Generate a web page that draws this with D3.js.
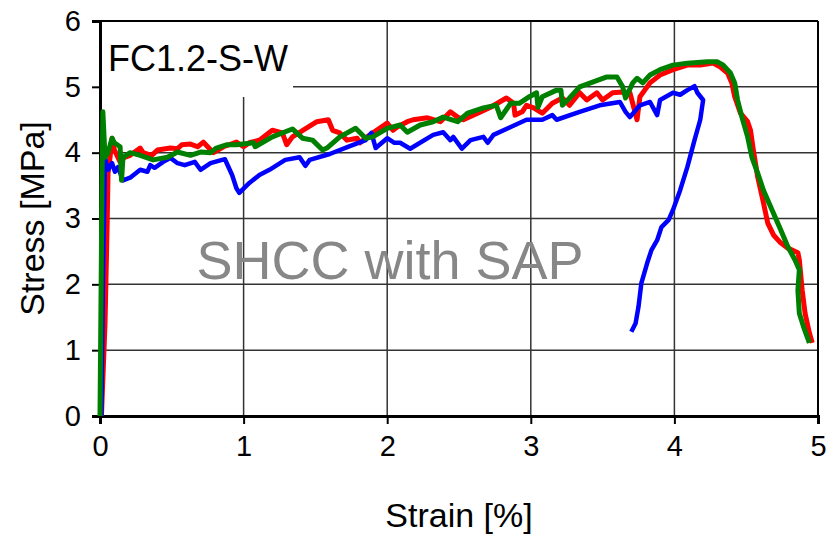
<!DOCTYPE html>
<html>
<head>
<meta charset="utf-8">
<script src="https://cdn.jsdelivr.net/npm/d3@7"></script>
<style>
  body { margin: 0; background: #fff; }
  svg { display: block; font-family: "Liberation Sans", Arial, sans-serif; }
</style>
</head>
<body>
<svg width="827" height="539"></svg>
<script>
// strain [%], stress [MPa]
const redCurve = [
  [0.01,0],[0.035,1.41],[0.05,2.93],[0.056,3.69],[0.07,3.93],[0.084,4.22],[0.10,4.04],[0.14,3.86],
  [0.17,3.93],[0.21,3.96],[0.28,4.07],[0.30,4.00],[0.36,3.96],[0.40,4.04],[0.49,4.07],[0.54,4.06],
  [0.57,4.12],[0.63,4.13],[0.68,4.09],[0.72,4.16],[0.75,4.09],[0.79,4.00],[0.86,4.09],[0.95,4.16],
  [1.00,4.09],[1.04,4.15],[1.11,4.19],[1.20,4.34],[1.27,4.30],[1.30,4.12],[1.34,4.24],[1.51,4.47],
  [1.59,4.50],[1.62,4.34],[1.67,4.30],[1.72,4.19],[1.79,4.22],[1.81,4.15],[1.86,4.24],[2.00,4.45],
  [2.04,4.34],[2.07,4.39],[2.14,4.47],[2.18,4.50],[2.28,4.53],[2.37,4.47],[2.44,4.62],[2.49,4.54],
  [2.53,4.50],[2.63,4.60],[2.72,4.69],[2.83,4.83],[2.88,4.75],[2.89,4.57],[2.94,4.62],[2.97,4.72],
  [3.02,4.68],[3.08,4.60],[3.15,4.75],[3.22,4.83],[3.27,4.72],[3.34,4.91],[3.39,4.80],[3.46,4.91],
  [3.50,4.80],[3.57,4.91],[3.64,4.92],[3.69,4.91],[3.74,4.50],[3.76,4.85],[3.83,5.06],[3.90,5.18],
  [3.99,5.26],[4.09,5.33],[4.18,5.33],[4.27,5.36],[4.32,5.30],[4.37,5.21],[4.40,5.06],[4.42,4.85],
  [4.46,4.60],[4.51,4.47],[4.53,4.34],[4.55,4.04],[4.58,3.63],[4.62,3.24],[4.65,2.93],[4.69,2.75],
  [4.74,2.63],[4.79,2.55],[4.86,2.48],[4.87,2.37],[4.89,1.91],[4.91,1.56],[4.94,1.26],[4.96,1.11]
];
const blueCurve = [
  [0.01,0],[0.02,2.0],[0.035,3.92],[0.056,3.74],[0.084,3.84],[0.104,3.71],[0.125,3.78],[0.16,3.58],
  [0.21,3.62],[0.28,3.74],[0.33,3.71],[0.35,3.81],[0.38,3.77],[0.44,3.86],[0.49,3.92],[0.54,3.84],
  [0.59,3.81],[0.66,3.86],[0.70,3.74],[0.77,3.84],[0.85,3.89],[0.87,3.90],[0.92,3.66],[0.95,3.46],
  [0.97,3.39],[1.04,3.54],[1.11,3.66],[1.18,3.74],[1.29,3.89],[1.39,3.93],[1.43,3.80],[1.46,3.89],
  [1.60,3.98],[1.74,4.10],[1.85,4.19],[1.89,4.30],[1.92,4.07],[2.00,4.22],[2.05,4.15],[2.09,4.15],
  [2.16,4.06],[2.32,4.27],[2.39,4.31],[2.44,4.19],[2.46,4.24],[2.52,4.06],[2.58,4.19],[2.67,4.24],
  [2.70,4.15],[2.74,4.27],[2.86,4.39],[2.97,4.50],[3.08,4.50],[3.15,4.57],[3.18,4.50],[3.34,4.62],
  [3.48,4.72],[3.62,4.77],[3.66,4.62],[3.69,4.54],[3.76,4.72],[3.83,4.77],[3.86,4.65],[3.88,4.57],
  [3.90,4.80],[3.99,4.91],[4.04,4.88],[4.09,4.95],[4.14,5.01],[4.16,4.91],[4.20,4.80],[4.18,4.50],
  [4.14,4.19],[4.09,3.78],[4.04,3.43],[3.99,3.13],[3.96,2.98],[3.91,2.87],[3.88,2.67],[3.84,2.52],
  [3.81,2.32],[3.77,2.02],[3.75,1.66],[3.73,1.41],[3.70,1.28]
];
const greenCurve = [
  [0.0,0],[0.007,1.76],[0.014,3.58],[0.02,4.62],[0.035,3.93],[0.056,4.00],[0.084,4.22],[0.10,4.15],
  [0.14,4.09],[0.15,3.58],[0.16,3.93],[0.21,4.00],[0.28,3.96],[0.37,3.89],[0.47,3.93],[0.54,4.01],
  [0.63,3.96],[0.70,4.01],[0.77,4.00],[0.81,4.07],[0.88,4.12],[0.95,4.12],[1.07,4.15],[1.08,4.09],
  [1.20,4.24],[1.34,4.36],[1.41,4.22],[1.48,4.19],[1.55,4.04],[1.58,4.07],[1.67,4.24],[1.78,4.37],
  [1.85,4.22],[1.90,4.24],[2.00,4.37],[2.09,4.42],[2.14,4.31],[2.23,4.42],[2.32,4.47],[2.39,4.54],
  [2.49,4.47],[2.56,4.60],[2.67,4.68],[2.76,4.72],[2.79,4.53],[2.86,4.75],[2.92,4.75],[2.99,4.85],
  [3.04,4.91],[3.05,4.69],[3.08,4.85],[3.18,4.95],[3.21,4.95],[3.22,4.72],[3.27,4.83],[3.34,5.00],
  [3.43,5.07],[3.53,5.15],[3.60,5.15],[3.64,5.00],[3.66,4.83],[3.71,5.06],[3.74,5.13],[3.78,5.06],
  [3.83,5.18],[3.90,5.26],[3.99,5.33],[4.09,5.36],[4.23,5.38],[4.30,5.38],[4.34,5.33],[4.39,5.21],
  [4.42,5.06],[4.44,4.80],[4.47,4.54],[4.51,4.24],[4.54,3.93],[4.58,3.69],[4.62,3.43],[4.68,3.13],
  [4.74,2.83],[4.79,2.57],[4.84,2.37],[4.87,2.22],[4.86,1.91],[4.87,1.56],[4.90,1.35],[4.94,1.11]
];
const xTicks = [0, 1, 2, 3, 4, 5];
const yTicks = [0, 1, 2, 3, 4, 5, 6];

const margin = { top: 21, right: 9, bottom: 123, left: 100 };
const width = 827 - margin.left - margin.right;
const height = 539 - margin.top - margin.bottom;

const svg = d3.select("svg");
const g = svg.append("g").attr("transform", `translate(${margin.left},${margin.top})`);

const x = d3.scaleLinear().domain([0, 5]).range([0, width]);
const y = d3.scaleLinear().domain([0, 6]).range([height, 0]);

// grid
g.append("g")
    .selectAll("line.v")
    .data(xTicks.slice(1, -1))
    .enter().append("line")
    .attr("x1", d => x(d)).attr("x2", d => x(d))
    .attr("y1", 0).attr("y2", height)
    .attr("stroke", "#333").attr("stroke-width", 1.5);

g.append("g")
    .selectAll("line.h")
    .data(yTicks.slice(1, -1))
    .enter().append("line")
    .attr("x1", 0).attr("x2", width)
    .attr("y1", d => y(d)).attr("y2", d => y(d))
    .attr("stroke", "#333").attr("stroke-width", 1.5);

// top and right border
g.append("line").attr("x1", 0).attr("x2", width).attr("y1", 0).attr("y2", 0)
    .attr("stroke", "#000").attr("stroke-width", 2);
g.append("line").attr("x1", width).attr("x2", width).attr("y1", 0).attr("y2", height)
    .attr("stroke", "#000").attr("stroke-width", 2);

// opaque label box that hides the grid behind it
g.append("rect")
    .attr("x", 1).attr("y", 1)
    .attr("width", 192).attr("height", 75)
    .attr("fill", "#fff");

g.append("text")
    .attr("x", 8).attr("y", 50)
    .attr("font-size", 36)
    .attr("fill", "#000")
    .text("FC1.2-S-W");

g.append("text")
    .attr("x", x(2.02)).attr("y", 258)
    .attr("text-anchor", "middle")
    .attr("font-size", 54)
    .attr("fill", "#878787")
    .text("SHCC with SAP");

// axes
const xAxis = g.append("g")
    .attr("transform", `translate(0,${height})`)
    .call(d3.axisBottom(x).tickValues(xTicks).tickSize(8).tickPadding(11).tickFormat(d3.format("d")));
const yAxis = g.append("g")
    .call(d3.axisLeft(y).tickValues(yTicks).tickSize(8).tickPadding(11).tickFormat(d3.format("d")));

[xAxis, yAxis].forEach(a => {
    a.select(".domain").attr("stroke", "#000").attr("stroke-width", 3);
    a.selectAll(".tick line").attr("stroke", "#000").attr("stroke-width", 2);
    a.selectAll(".tick text").attr("font-size", 29).attr("fill", "#000")
        .attr("font-family", "Liberation Sans, Arial, sans-serif");
});

// curves
const line = d3.line().x(d => x(d[0])).y(d => y(d[1]));
[[redCurve, "#ff0000", 5], [blueCurve, "#0000ff", 4.5], [greenCurve, "#008000", 5]].forEach(([data, color, w]) => {
    g.append("path")
        .datum(data)
        .attr("fill", "none")
        .attr("stroke", color)
        .attr("stroke-width", w)
        .attr("stroke-linejoin", "round")
        .attr("d", line);
});

// axis titles
svg.append("text")
    .attr("x", margin.left + x(2.5)).attr("y", 527)
    .attr("text-anchor", "middle")
    .attr("font-size", 34)
    .text("Strain [%]");

svg.append("text")
    .attr("transform", `translate(44,${margin.top + y(3.0)}) rotate(-90)`)
    .attr("text-anchor", "middle")
    .attr("font-size", 34)
    .text("Stress [MPa]");
</script>
</body>
</html>
